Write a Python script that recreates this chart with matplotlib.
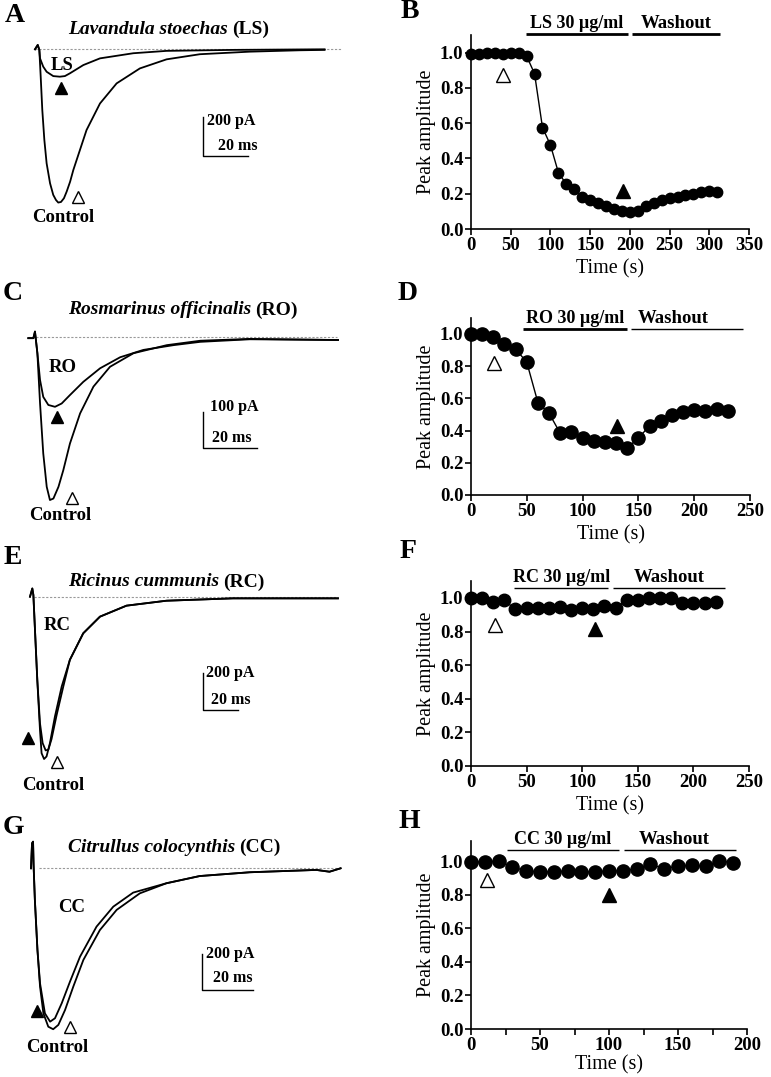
import matplotlib.pyplot as plt
import numpy as np

W, H = 771, 1077
plt.rcParams["font.family"] = ["Liberation Serif", "DejaVu Serif"]
plt.rcParams["font.weight"] = "bold"

# ---- current traces: time (ms), current (pA) ----
a_ctrl_t = [0, 1.2, 1.9, 2.5, 3.2, 4.1, 5.1, 6.6, 8.0, 9.2, 10.2, 11.4, 12.7, 13.9, 15.4, 16.8, 19.0, 22.6, 28.5, 35.8,
            46.0, 57.7, 72.3, 94.2, 116, 127]
a_ctrl_i = [0, 22, -3, -139, -308, -460, -579, -680, -739, -765, -778, -775, -756, -722, -672, -613, -536, -410, -275,
            -173, -97, -51, -25, -12, -5, -3]
a_drug_t = [0, 1.2, 1.9, 2.2, 3.6, 5.1, 8.0, 10.9, 13.1, 15.3, 21.2, 28.5, 43.1, 57.7, 86.9, 127]
a_drug_i = [0, 22, -3, -46, -88, -114, -136, -139, -136, -122, -80, -46, -20, -8, -3, 0]

c_ctrl_t = [0, 1.9, 2.5, 3.4, 4.4, 5.6, 6.9, 8.1, 9.4, 11.3, 13.1, 15.6, 19.4, 24.4, 30.6, 39.4, 51.9, 64.4, 83, 116]
c_ctrl_i = [-4, -4, 14, -45, -182, -318, -409, -445, -441, -409, -364, -291, -209, -136, -82, -45, -23, -11, -6, -9]
c_drug_t = [0, 1.9, 2.5, 3.4, 4.4, 5.6, 7.5, 10, 12.5, 15.6, 20.6, 26.9, 34.4, 43.1, 54.4, 64.4, 83, 116]
c_drug_i = [-4, -4, 14, -45, -118, -164, -186, -191, -182, -159, -123, -86, -56, -36, -23, -14, -7, -9]

e_ctrl_t = [0, 1.3, 1.9, 2.8, 4.1, 5.6, 6.5, 7.9, 9.3, 11.2, 14.0, 17.8, 22.4, 29.9, 39.3, 54.2, 76.6, 114, 173]
e_ctrl_i = [0, 45, 9, -182, -455, -727, -855, -887, -873, -800, -655, -491, -345, -200, -109, -49, -22, -9, -9]
e_drug_t = [0, 1.3, 1.9, 2.8, 4.1, 5.6, 7.1, 8.8, 10.3, 12.1, 15.0, 18.7, 22.4, 29.9, 39.3, 54.2, 76.6, 114, 173]
e_drug_i = [0, 45, 9, -182, -455, -691, -800, -840, -836, -778, -645, -491, -345, -200, -109, -49, -22, -9, -9]

g_ctrl_t = [0, 0.4, 0.8, 1.0, 1.5, 2.5, 3.5, 4.8, 6.7, 8.6, 10.6, 13.2, 16.4, 20.3, 26.7, 33.2, 42.2, 52.5, 65.4,
            84.8, 110.6, 115.7, 120]
g_ctrl_i = [0, 139, 148, 19, -176, -454, -657, -806, -880, -894, -870, -787, -657, -509, -343, -231, -139, -83, -43,
            -22, -9, -19, 0]
g_drug_t = [0, 0.4, 0.8, 1.0, 1.5, 2.5, 3.5, 5.4, 7.4, 9.3, 11.9, 15.1, 19.0, 25.4, 31.9, 39.6, 52.5, 65.4, 84.8,
            110.6, 115.7, 120]
g_drug_i = [0, 139, 148, 19, -176, -454, -639, -806, -852, -833, -750, -630, -491, -324, -213, -135, -83, -43, -22,
            -9, -19, 0]

# ---- normalised peak amplitude vs time (s) ----
b_time = list(range(0, 320, 10))
b_amp = [0.99, 0.99, 1.0, 1.0, 0.99, 1.0, 1.0, 0.98, 0.88, 0.575, 0.476, 0.32, 0.254, 0.226, 0.18, 0.165,
         0.147, 0.132, 0.113, 0.10, 0.094, 0.10, 0.128, 0.15, 0.165, 0.175, 0.184, 0.194, 0.20, 0.207, 0.218, 0.207]
d_time = list(range(0, 240, 10))
d_amp = [1.0, 1.0, 0.983, 0.936, 0.907, 0.824, 0.573, 0.507, 0.383, 0.389, 0.352, 0.335, 0.327, 0.321, 0.294,
         0.352, 0.431, 0.462, 0.497, 0.518, 0.528, 0.522, 0.534, 0.522]
f_time = list(range(0, 230, 10))
f_amp = [1.0, 1.0, 0.977, 0.986, 0.932, 0.938, 0.938, 0.942, 0.946, 0.928, 0.938, 0.932, 0.951, 0.938, 0.99,
         0.99, 1.0, 1.0, 1.0, 0.971, 0.971, 0.971, 0.977]
h_time = list(range(0, 200, 10))
h_amp = [0.994, 0.994, 1.0, 0.964, 0.941, 0.935, 0.935, 0.941, 0.935, 0.935, 0.941, 0.941, 0.954, 0.98, 0.954,
         0.97, 0.974, 0.968, 1.0, 0.99]

extracts = ["Lavandula stoechas", "Rosmarinus officinalis", "Ricinus cummunis", "Citrullus colocynthis"]
abbrevs = ["LS", "RO", "RC", "CC"]
scale_pa = ["200", "100", "200", "200"]

fig = plt.figure(figsize=(W / 100, H / 100), dpi=100)


def px(x, y):
    return x / W, 1 - y / H


def trace_axes(x0, y0, ms_px, pa_px, top, bottom, left=0, right=395):
    ax = fig.add_axes([left / W, 1 - bottom / H, (right - left) / W, (bottom - top) / H])
    ax.set_xlim((left - x0) / ms_px, (right - x0) / ms_px)
    ax.set_ylim((y0 - bottom) / pa_px, (y0 - top) / pa_px)
    ax.axis("off")
    return ax


def amp_axes(bottom, unit_px, ytop, xmax, right, xpad=4):
    left = 471
    top = bottom - ytop * unit_px
    ax = fig.add_axes([left / W, 1 - bottom / H, (right - left) / W, (bottom - top) / H])
    ax.set_xlim(0, xmax)
    ax.set_ylim(0, ytop)
    ax.spines[["top", "right"]].set_visible(False)
    for s in ["left", "bottom"]:
        ax.spines[s].set_linewidth(1.2)
    ax.set_yticks(np.arange(0, 1.01, 0.2))
    ax.set_yticklabels([f"{v:.1f}" for v in np.arange(0, 1.01, 0.2)])
    ax.set_xticks(np.arange(0, xmax + 1, 50))
    ax.tick_params(labelsize=13.5, width=1.2, length=4, pad=1.5)
    ax.set_xlabel("Time (s)", fontsize=14.5, labelpad=xpad)
    ax.set_ylabel("Peak amplitude", fontsize=14.5, labelpad=3)
    return ax


def draw_traces(ax, ctrl, drug, base_end, base_start=0):
    ax.plot([base_start, base_end], [0, 0], color="#999999", lw=0.8, ls=(0, (2, 1.5)))
    ax.plot(ctrl[0], ctrl[1], color="black", lw=1.3)
    ax.plot(drug[0], drug[1], color="black", lw=1.3)


def scale_bar(ax, t, i, amp):
    ax.plot([t, t, t + 20], [i + amp, i, i], color="black", lw=1.0)


def tri(ax, x, y, filled, ms=9):
    ax.plot([x], [y], marker="^", ms=ms, mfc="black" if filled else "white", mec="black",
            mew=1.0, clip_on=False, ls="none")


# ---------- left column: traces ----------
axA = trace_axes(35, 49.3, 2.28, 0.197, 0, 265)
draw_traces(axA, (a_ctrl_t, a_ctrl_i), (a_drug_t, a_drug_i), 134)
scale_bar(axA, 73.6, -541.6, 200)
tri(axA, 11.4, -196, True)
tri(axA, 18.7, -750, False)

axC = trace_axes(28.3, 336.7, 2.67, 0.367, 270, 530)
draw_traces(axC, (c_ctrl_t, c_ctrl_i), (c_drug_t, c_drug_i), 115.6)
scale_bar(axC, 65.5, -304, 100)
tri(axC, 10.6, -218, True)
tri(axC, 16.3, -440, False)

axE = trace_axes(30, 596.7, 1.78, 0.183, 530, 800)
draw_traces(axE, (e_ctrl_t, e_ctrl_i), (e_drug_t, e_drug_i), 173, base_start=2)
scale_bar(axE, 97, -619, 200)
tri(axE, -0.9, -774, True)
tri(axE, 15, -902, False)

axG = trace_axes(31, 868.3, 2.58, 0.18, 800, 1077)
draw_traces(axG, (g_ctrl_t, g_ctrl_i), (g_drug_t, g_drug_i), 119.8, base_start=3.2)
scale_bar(axG, 66.2, -676, 200)
tri(axG, 2.2, -791, True)
tri(axG, 15.1, -880, False)

# trace annotations (figure pixel positions)
for (x, y), s in zip([(62, 65), (63, 368), (57, 625), (72, 907)], abbrevs):
    fig.text(*px(x, y), s, fontsize=13.5, ha="center", va="center")
for x, y in [(63, 218), (60, 515), (53, 785), (57, 1047)]:
    fig.text(*px(x, y), "Control", fontsize=13.5, ha="center", va="center")
for (x1, y1, x2, y2), amp in zip([(207, 121, 218, 146), (210, 407, 212, 438),
                                  (206, 673, 211, 700), (206, 954, 213, 978)], scale_pa):
    fig.text(*px(x1, y1), f"{amp} pA", fontsize=11.5, ha="left", va="center")
    fig.text(*px(x2, y2), "20 ms", fontsize=11.5, ha="left", va="center")

for y, name, abbr in zip([29, 310, 582, 847], extracts, abbrevs):
    t1 = fig.text(*px(68, y), name, style="italic", fontsize=14, va="center", ha="left")
    axA.annotate(f"({abbr})", xy=(1, 0.5), xycoords=t1, xytext=(3, 0), textcoords="offset points",
                 va="center", ha="left", fontsize=14, annotation_clip=False)

# ---------- right column: peak amplitude ----------
axB = amp_axes(229, 176.5, 1.1, 350, 749)
axD = amp_axes(495, 161, 1.1, 250, 750)
axF = amp_axes(766, 168, 1.1, 250, 749)
axH = amp_axes(1029, 168, 1.12, 200, 747, xpad=1)

for ax, t, a, ms in [(axB, b_time, b_amp, 7.5), (axD, d_time, d_amp, 9.5),
                     (axF, f_time, f_amp, 9.0), (axH, h_time, h_amp, 9.5)]:
    ax.plot(t, a, color="black", lw=1.0, marker="o", ms=ms, clip_on=False, zorder=3)

axH.set_xticks(np.arange(0, 201, 25), minor=True)
axH.tick_params(which="minor", length=4, width=1.2)


def bars(ax, abbr, drug, wash, y, lw_d, lw_w, wash_text_x=None):
    ax.plot(drug, [y, y], color="black", lw=lw_d, clip_on=False, solid_capstyle="butt")
    ax.plot(wash, [y, y], color="black", lw=lw_w, clip_on=False, solid_capstyle="butt")
    ax.annotate(f"{abbr} 30 µg/ml", xy=(sum(drug) / 2, y), xytext=(0, 1.5), textcoords="offset points",
                ha="center", va="bottom", fontsize=13, annotation_clip=False)
    wx = wash_text_x if wash_text_x is not None else sum(wash) / 2
    ax.annotate("Washout", xy=(wx, y), xytext=(0, 1.5), textcoords="offset points",
                ha="center", va="bottom", fontsize=13.5, annotation_clip=False)


bars(axB, "LS", (69, 198), (203, 314), 1.105, 2.0, 2.0)
bars(axD, "RO", (47, 139.5), (143.5, 243.5), 1.031, 2.0, 1.0, 181)
bars(axF, "RC", (39, 123.5), (128, 228), 1.058, 1.0, 1.0)
bars(axH, "CC", (26, 107), (111, 192), 1.063, 1.0, 1.0, 147)

tri(axB, 40.6, 0.875, False, 10)
tri(axB, 191.5, 0.218, True, 10)
tri(axD, 20.9, 0.818, False, 10)
tri(axD, 130.5, 0.43, True, 10)
tri(axF, 21.6, 0.84, False, 10)
tri(axF, 111.4, 0.816, True, 10)
tri(axH, 11.4, 0.885, False, 10)
tri(axH, 100.1, 0.796, True, 10)

# panel letters
for (x, y), s in zip([(15, 15), (410, 12), (13, 293), (408, 293), (13, 558), (408, 552), (13, 827), (409, 822)],
                     "ABCDEFGH"):
    fig.text(*px(x, y), s, fontsize=20, ha="center", va="center")

fig.savefig("out.png", dpi=100)
